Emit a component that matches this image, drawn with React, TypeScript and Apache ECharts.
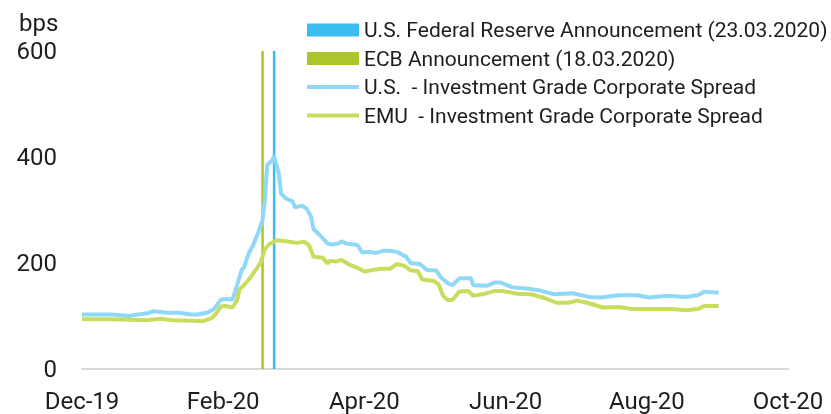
import React, { useEffect, useRef } from "react";
import * as echarts from "echarts";

// Day 0 of the horizontal axis is 2019-12-31; the axis spans 305 days.
const axisOrigin = "2019-12-31";
const axisSpanDays = 305;
const xTickLabels = ["Dec-19", "Feb-20", "Apr-20", "Jun-20", "Aug-20", "Oct-20"];
const yTicks = [0, 200, 400, 600];
const yUnit = "bps";

const fedDate = "2020-03-23";
const ecbDate = "2020-03-18";
const announcementHeight = 600;

const usDates = [
  "2019-12-31", "2020-01-08", "2020-01-13", "2020-01-20", "2020-01-28", "2020-01-31",
  "2020-02-06", "2020-02-11", "2020-02-16", "2020-02-19", "2020-02-23", "2020-02-26",
  "2020-02-29", "2020-03-02", "2020-03-05", "2020-03-07", "2020-03-09", "2020-03-10",
  "2020-03-12", "2020-03-14", "2020-03-16", "2020-03-18", "2020-03-19", "2020-03-20",
  "2020-03-22", "2020-03-23", "2020-03-25", "2020-03-26", "2020-03-28", "2020-03-31",
  "2020-04-01", "2020-04-04", "2020-04-06", "2020-04-08", "2020-04-09", "2020-04-11",
  "2020-04-13", "2020-04-15", "2020-04-17", "2020-04-20", "2020-04-21", "2020-04-23",
  "2020-04-28", "2020-04-30", "2020-05-03", "2020-05-06", "2020-05-09", "2020-05-12",
  "2020-05-15", "2020-05-19", "2020-05-21", "2020-05-25", "2020-05-28", "2020-06-01",
  "2020-06-03", "2020-06-06", "2020-06-08", "2020-06-11", "2020-06-16", "2020-06-17",
  "2020-06-23", "2020-06-26", "2020-06-29", "2020-07-04", "2020-07-10", "2020-07-16",
  "2020-07-22", "2020-07-30", "2020-08-06", "2020-08-11", "2020-08-19", "2020-08-27",
  "2020-09-01", "2020-09-09", "2020-09-17", "2020-09-22", "2020-09-25", "2020-10-01",
];
const usValues = [
  103, 103, 103, 100, 105, 109,
  106, 106, 103, 103, 106, 113,
  131, 132, 131, 158, 187, 192,
  218, 234, 256, 281, 319, 385,
  393, 401, 369, 331, 322, 316,
  305, 308, 303, 287, 264, 256,
  247, 237, 235, 237, 241, 237,
  234, 220, 221, 219, 223, 223,
  221, 212, 200, 198, 187, 186,
  173, 162, 158, 171, 171, 158,
  157, 163, 163, 154, 152, 148,
  141, 143, 136, 135, 139, 139,
  135, 138, 136, 139, 146, 144,
];

const emuDates = [
  "2019-12-31", "2020-01-13", "2020-01-28", "2020-02-03", "2020-02-08", "2020-02-17",
  "2020-02-21", "2020-02-25", "2020-02-27", "2020-02-29", "2020-03-02", "2020-03-05",
  "2020-03-07", "2020-03-08", "2020-03-10", "2020-03-13", "2020-03-15", "2020-03-17",
  "2020-03-19", "2020-03-21", "2020-03-24", "2020-03-28", "2020-04-02", "2020-04-05",
  "2020-04-07", "2020-04-09", "2020-04-13", "2020-04-15", "2020-04-16", "2020-04-19",
  "2020-04-21", "2020-04-24", "2020-04-28", "2020-05-01", "2020-05-05", "2020-05-08",
  "2020-05-12", "2020-05-15", "2020-05-18", "2020-05-21", "2020-05-24", "2020-05-26",
  "2020-05-31", "2020-06-02", "2020-06-04", "2020-06-06", "2020-06-08", "2020-06-11",
  "2020-06-15", "2020-06-17", "2020-06-23", "2020-06-26", "2020-06-30", "2020-07-06",
  "2020-07-12", "2020-07-17", "2020-07-23", "2020-07-28", "2020-08-01", "2020-08-06",
  "2020-08-12", "2020-08-19", "2020-08-25", "2020-09-03", "2020-09-11", "2020-09-17",
  "2020-09-22", "2020-09-25", "2020-10-01",
];
const emuValues = [
  94, 94, 92, 95, 92, 91,
  90, 96, 105, 118, 119, 116,
  130, 150, 158, 174, 187, 199,
  226, 236, 243, 241, 238, 240,
  234, 212, 210, 199, 204, 203,
  206, 198, 191, 184, 187, 189,
  189, 198, 195, 186, 185, 169,
  166, 160, 138, 130, 130, 146,
  147, 138, 143, 147, 147, 142,
  141, 135, 125, 125, 129, 124,
  116, 117, 113, 113, 113, 111,
  113, 119, 119,
];

const seriesNames = [
  "U.S. Federal Reserve Announcement (23.03.2020)",
  "ECB Announcement (18.03.2020)",
  "U.S.  - Investment Grade Corporate Spread",
  "EMU  - Investment Grade Corporate Spread",
];

const toUTC = (s: string) => {
  const [y, m, d] = s.split("-").map(Number);
  return Date.UTC(y, m - 1, d);
};
const toDay = (s: string) => (toUTC(s) - toUTC(axisOrigin)) / 86400000;

const FONT = "Roboto";
const TEXT_COLOR = "#1e1e1e";
const US_COLOR = "#8fd8f8";
const EMU_COLOR = "#c8dc5e";

export default function App() {
  const ref = useRef<HTMLDivElement>(null);

  useEffect(() => {
    if (!ref.current) return;
    const chart = echarts.init(ref.current, null, { renderer: "svg" });
    const tickStep = axisSpanDays / (xTickLabels.length - 1);

    chart.setOption({
      animation: false,
      textStyle: { fontFamily: FONT },
      grid: { left: 82, right: 43, top: 51, bottom: 45 },
      graphic: [
        {
          type: "text",
          left: 19,
          top: 11,
          style: { text: yUnit, font: `24px ${FONT}`, fill: TEXT_COLOR },
        },
      ],
      legend: {
        orient: "vertical",
        left: 300,
        top: 14,
        itemWidth: 52,
        itemHeight: 13,
        itemGap: 6.5,
        textStyle: { fontFamily: FONT, fontSize: 21, lineHeight: 22, color: TEXT_COLOR },
        data: [
          { name: seriesNames[0], icon: "rect" },
          { name: seriesNames[1], icon: "rect" },
          { name: seriesNames[2], itemStyle: { opacity: 0 }, lineStyle: { width: 4, color: US_COLOR } },
          { name: seriesNames[3], itemStyle: { opacity: 0 }, lineStyle: { width: 4, color: EMU_COLOR } },
        ],
      },
      xAxis: {
        type: "value",
        min: 0,
        max: axisSpanDays,
        interval: tickStep,
        axisLine: { show: true, lineStyle: { color: "#d9d9d9", width: 2 } },
        axisTick: { show: false },
        splitLine: { show: false },
        axisLabel: {
          fontFamily: FONT,
          fontSize: 24,
          color: TEXT_COLOR,
          margin: 20,
          formatter: (v: number) => xTickLabels[Math.round(v / tickStep)] ?? "",
        },
      },
      yAxis: {
        type: "value",
        min: yTicks[0],
        max: yTicks[yTicks.length - 1],
        interval: yTicks[1] - yTicks[0],
        axisLine: { show: false },
        axisTick: { show: false },
        splitLine: { show: false },
        axisLabel: { fontFamily: FONT, fontSize: 24, lineHeight: 20, color: TEXT_COLOR, margin: 25 },
      },
      series: [
        {
          name: seriesNames[0],
          type: "bar",
          barWidth: 2.5,
          barGap: "-100%",
          itemStyle: { color: "#3cbdf2" },
          data: [[toDay(fedDate), announcementHeight]],
        },
        {
          name: seriesNames[1],
          type: "bar",
          barWidth: 2.5,
          barGap: "-100%",
          itemStyle: { color: "#aec42c" },
          data: [[toDay(ecbDate), announcementHeight]],
        },
        {
          name: seriesNames[2],
          type: "line",
          symbol: "none",
          lineStyle: { color: US_COLOR, width: 4 },
          itemStyle: { color: US_COLOR },
          data: usDates.map((d, i) => [toDay(d), usValues[i]]),
        },
        {
          name: seriesNames[3],
          type: "line",
          symbol: "none",
          lineStyle: { color: EMU_COLOR, width: 4 },
          itemStyle: { color: EMU_COLOR },
          data: emuDates.map((d, i) => [toDay(d), emuValues[i]]),
        },
      ],
    });

    return () => chart.dispose();
  }, []);

  return (
    <div
      ref={ref}
      style={{ position: "fixed", left: 0, top: 0, width: 831, height: 414 }}
    />
  );
}
